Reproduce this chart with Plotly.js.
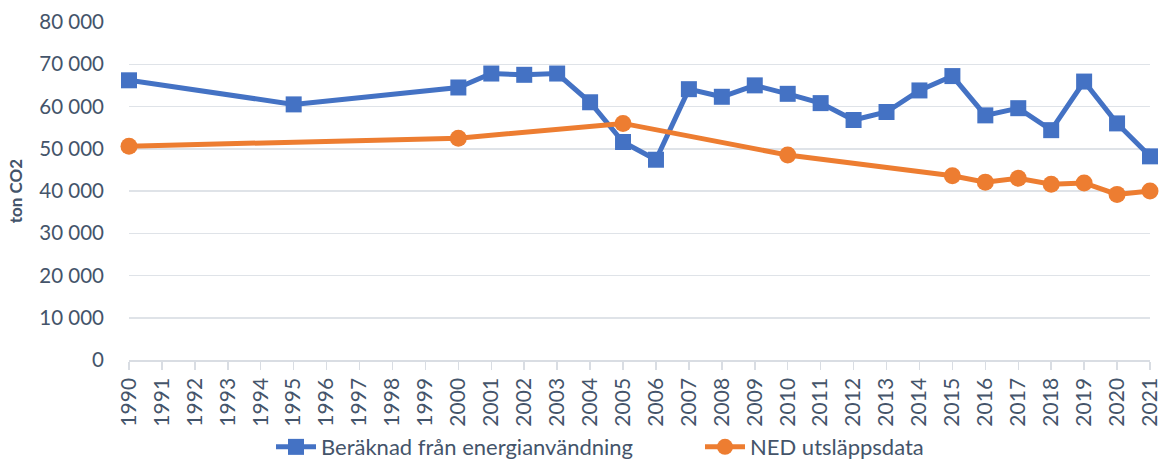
<!DOCTYPE html>
<html>
<head>
<meta charset="utf-8">
<script src="https://cdn.plot.ly/plotly-3.0.1.min.js"></script>
<style>html,body{margin:0;padding:0;background:#fff;}#chart{width:1162px;height:459px;}</style>
</head>
<body>
<div id="chart"></div>
<script>
const years = [];
for (let y = 1990; y <= 2021; y++) years.push(y);

const energyYears = [1990, 1995, 2000, 2001, 2002, 2003, 2004, 2005, 2006, 2007, 2008, 2009, 2010, 2011, 2012, 2013, 2014, 2015, 2016, 2017, 2018, 2019, 2020, 2021];
const energyValues = [66200, 60500, 64500, 67800, 67500, 67800, 61000, 51600, 47400, 64100, 62300, 65000, 63000, 60800, 56800, 58700, 63800, 67200, 57900, 59600, 54400, 65900, 56000, 48200];

const nedYears = [1990, 2000, 2005, 2010, 2015, 2016, 2017, 2018, 2019, 2020, 2021];
const nedValues = [50600, 52500, 56000, 48500, 43600, 42100, 43000, 41600, 41900, 39200, 40000];

const yTicks = [0, 10000, 20000, 30000, 40000, 50000, 60000, 70000, 80000];

const textColor = '#44546A';
const font = 'Lato, "Open Sans", sans-serif';

const traces = [
  {
    x: energyYears, y: energyValues, name: 'Beräknad från energianvändning',
    type: 'scatter', mode: 'lines+markers', cliponaxis: false,
    line: {color: '#4472C4', width: 5},
    marker: {symbol: 'square', size: 16, color: '#4472C4'}
  },
  {
    x: nedYears, y: nedValues, name: 'NED utsläppsdata',
    type: 'scatter', mode: 'lines+markers', cliponaxis: false,
    line: {color: '#ED7D31', width: 5},
    marker: {symbol: 'circle', size: 17, color: '#ED7D31'}
  }
];

const layout = {
  width: 1162, height: 459,
  margin: {l: 129, r: 12, t: 22, b: 99},
  paper_bgcolor: '#fff', plot_bgcolor: '#fff',
  separators: ', ',
  font: {family: font, color: textColor, size: 19},
  showlegend: true,
  legend: {
    orientation: 'h', x: 271 / 1162, xref: 'container', xanchor: 'left',
    y: 0.026, yref: 'container', yanchor: 'middle',
    font: {family: font, color: textColor, size: 22},
    entrywidth: 374, entrywidthmode: 'pixels',
    itemwidth: 40, tracegroupgap: 0, traceorder: 'normal'
  },
  xaxis: {
    type: 'linear', range: [1990, 2021],
    tickvals: years, ticktext: years.map(String),
    tickangle: -90, ticks: 'outside', ticklen: 8, tickcolor: '#D9DDE3', tickwidth: 1.5,
    showline: true, linecolor: '#D9DDE3', linewidth: 1.5,
    showgrid: false, zeroline: false,
    tickfont: {family: font, color: textColor, size: 21},
    automargin: false,
    fixedrange: true
  },
  yaxis: {
    range: [0, 80000], tickvals: yTicks, tickformat: ',d',
    showgrid: true, gridcolor: '#DFE3E8', gridwidth: 1.5,
    zeroline: false, showline: false, ticks: '',
    ticklabelstandoff: 24,
    tickfont: {family: font, color: textColor, size: 20.5},
    title: {text: 'ton CO2', font: {family: font, color: textColor, size: 17, weight: 'bold'}, standoff: 12},
    automargin: false,
    fixedrange: true
  }
};

Plotly.newPlot('chart', traces, layout, {displayModeBar: false, staticPlot: true});
</script>
</body>
</html>
